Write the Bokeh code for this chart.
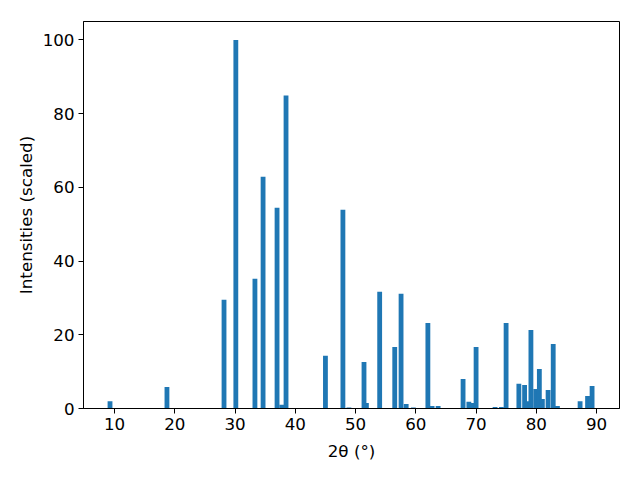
from bokeh.plotting import figure
from bokeh.models import Range1d, FixedTicker
from bokeh.embed import file_html
from bokeh.resources import INLINE

two_theta = [9.25, 18.7, 28.17, 30.13, 33.3, 34.65, 36.97, 37.75, 38.46, 45.0,
             47.9, 48.9, 51.4, 51.8, 54.0, 56.5, 57.55, 58.4, 59.6, 62.0,
             62.7, 63.7, 67.84, 68.8, 69.3, 70.0, 73.15, 74.2, 74.98, 77.1,
             78.05, 78.5, 79.1, 79.9, 80.5, 81.0, 81.95, 82.8, 83.5, 87.26,
             88.5, 89.25]
intensity = [2.0, 5.8, 29.5, 100, 35.2, 62.9, 54.5, 1.0, 84.9, 14.3,
             53.9, 0.3, 12.6, 1.5, 31.7, 16.7, 31.1, 1.2, 0.3, 23.2,
             0.7, 0.7, 8.0, 1.8, 1.5, 16.7, 0.4, 0.4, 23.2, 6.7,
             6.4, 2.0, 21.3, 5.3, 10.7, 2.6, 5.0, 17.5, 0.7, 2.0,
             3.4, 6.1]
x_ticks = [10, 20, 30, 40, 50, 60, 70, 80, 90]
y_ticks = [0, 20, 40, 60, 80, 100]

p = figure(width=640, height=480, output_backend="svg", toolbar_location=None,
           x_range=Range1d(4.85, 93.8), y_range=Range1d(0, 105),
           min_border_left=83, min_border_right=21, min_border_top=21,
           min_border_bottom=72)
p.vbar(x=two_theta, top=intensity, width=0.8, bottom=0,
       fill_color="#1f77b4", line_color=None)

p.xgrid.visible = False
p.ygrid.visible = False
p.outline_line_color = "black"
p.outline_line_width = 1
p.background_fill_color = "white"
p.border_fill_color = "white"

p.xaxis.ticker = FixedTicker(ticks=x_ticks)
p.yaxis.ticker = FixedTicker(ticks=y_ticks)
p.xaxis.axis_label = "2θ (°)"
p.yaxis.axis_label = "Intensities (scaled)"
for ax in (p.xaxis, p.yaxis):
    ax.axis_line_color = "black"
    ax.major_tick_line_color = "black"
    ax.major_tick_out = 5
    ax.major_tick_in = 0
    ax.minor_tick_line_color = None
    ax.major_label_text_font = "DejaVu Sans"
    ax.major_label_text_font_size = "16.7px"
    ax.major_label_text_color = "black"
    ax.axis_label_text_font = "DejaVu Sans"
    ax.axis_label_text_font_size = "16.7px"
    ax.axis_label_text_font_style = "normal"
    ax.axis_label_text_color = "black"
    ax.major_label_standoff = 4
p.yaxis.axis_label_standoff = 4
p.xaxis.axis_label_standoff = 8

open("out.html", "w").write(file_html(p, INLINE))
